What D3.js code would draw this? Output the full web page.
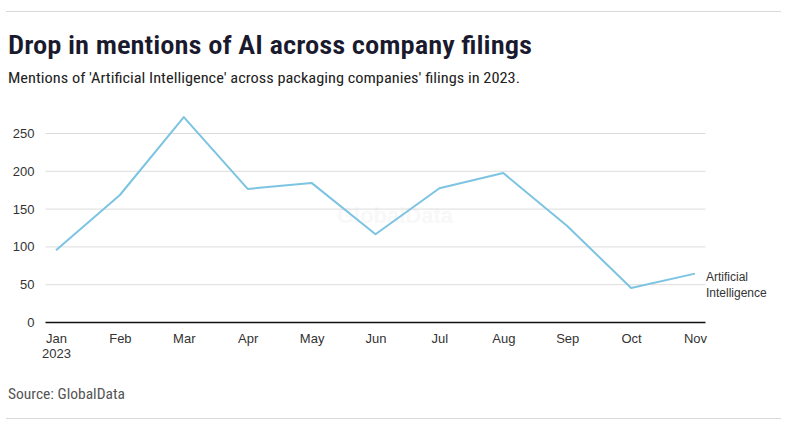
<!DOCTYPE html>
<html><head><meta charset="utf-8">
<script src="https://cdn.jsdelivr.net/npm/d3@7"></script>
<style>
body{margin:0;background:#fff;}
svg{display:block;}
</style></head>
<body>
<svg id="chart" width="789" height="429"></svg>
<script>
const months = ["Jan","Feb","Mar","Apr","May","Jun","Jul","Aug","Sep","Oct","Nov"];
const mentions = [95, 168, 271, 176, 184, 116, 177, 197, 127, 45, 64];
const yTicks = [0, 50, 100, 150, 200, 250];
const seriesName = ["Artificial", "Intelligence"];

const svg = d3.select("#chart");
const condensed = "'Liberation Sans Narrow','Roboto Condensed','Arial Narrow',Roboto,sans-serif";
const sans = "'Liberation Sans',Arial,Helvetica,sans-serif";

svg.append("line").attr("x1",6).attr("x2",781).attr("y1",11.5).attr("y2",11.5).attr("stroke","#d9d9d9");
svg.append("line").attr("x1",6).attr("x2",781).attr("y1",418.5).attr("y2",418.5).attr("stroke","#d9d9d9");

svg.append("text").attr("x",8).attr("y",54).attr("font-family",condensed).attr("font-weight","600")
  .attr("font-size",26).attr("fill","#1a1a2e").attr("textLength",524).attr("lengthAdjust","spacingAndGlyphs")
  .text("Drop in mentions of AI across company filings");
svg.append("text").attr("x",8).attr("y",83).attr("font-family",condensed)
  .attr("font-size",15.5).attr("fill","#222").attr("textLength",512).attr("lengthAdjust","spacingAndGlyphs")
  .text("Mentions of 'Artificial Intelligence' across packaging companies' filings in 2023.");

const x = d3.scalePoint().domain(months).range([56, 695]);
const y = d3.scaleLinear().domain([0, 250]).range([322, 133]);

// watermark
svg.append("text").attr("x",395).attr("y",223).attr("text-anchor","middle").attr("font-family",sans)
  .attr("font-weight","bold").attr("font-size",22).attr("fill","#f8f8f8").text("GlobalData");

// grid
const gy = svg.append("g").attr("transform","translate(45.5,0)")
  .call(d3.axisLeft(y).tickValues(yTicks).tickSize(-660).tickPadding(11));
gy.select(".domain").remove();
gy.selectAll(".tick line").attr("stroke","#dcdcdc");
gy.selectAll(".tick").filter(d=>d===0).select("line").attr("stroke","#111").attr("stroke-width",1.5);
gy.selectAll("text").attr("font-family",sans).attr("font-size",13).attr("fill","#333").attr("dy","0.35em");

// x axis labels
const gx = svg.append("g").attr("transform","translate(0,322)")
  .call(d3.axisBottom(x).tickSize(0).tickPadding(12));
gx.select(".domain").remove();
gx.selectAll("text").attr("font-family",sans).attr("font-size",13).attr("fill","#333");
gx.selectAll(".tick").filter(d=>d==="Jan").append("text")
  .attr("y",27).attr("dy","0.71em").attr("text-anchor","middle").attr("font-family",sans)
  .attr("font-size",13).attr("fill","#333").text("2023");

// line
const line = d3.line().x((d,i)=>x(months[i])).y(d=>y(d));
svg.append("path").datum(mentions).attr("d",line).attr("fill","none")
  .attr("stroke","#7cc4e2").attr("stroke-width",2).attr("stroke-linejoin","round");

// series label
const last = mentions[mentions.length-1];
svg.append("text").attr("x",706).attr("y",y(last)+7.5).attr("font-family",sans).attr("font-size",12)
  .attr("fill","#333").selectAll("tspan").data(seriesName).join("tspan")
  .attr("x",706).attr("dy",(d,i)=>i===0?0:15.5).text(d=>d);

svg.append("text").attr("x",8).attr("y",399).attr("font-family",condensed).attr("font-size",14)
  .attr("fill","#555").attr("textLength",117).attr("lengthAdjust","spacingAndGlyphs").text("Source: GlobalData");
</script>
</body></html>
